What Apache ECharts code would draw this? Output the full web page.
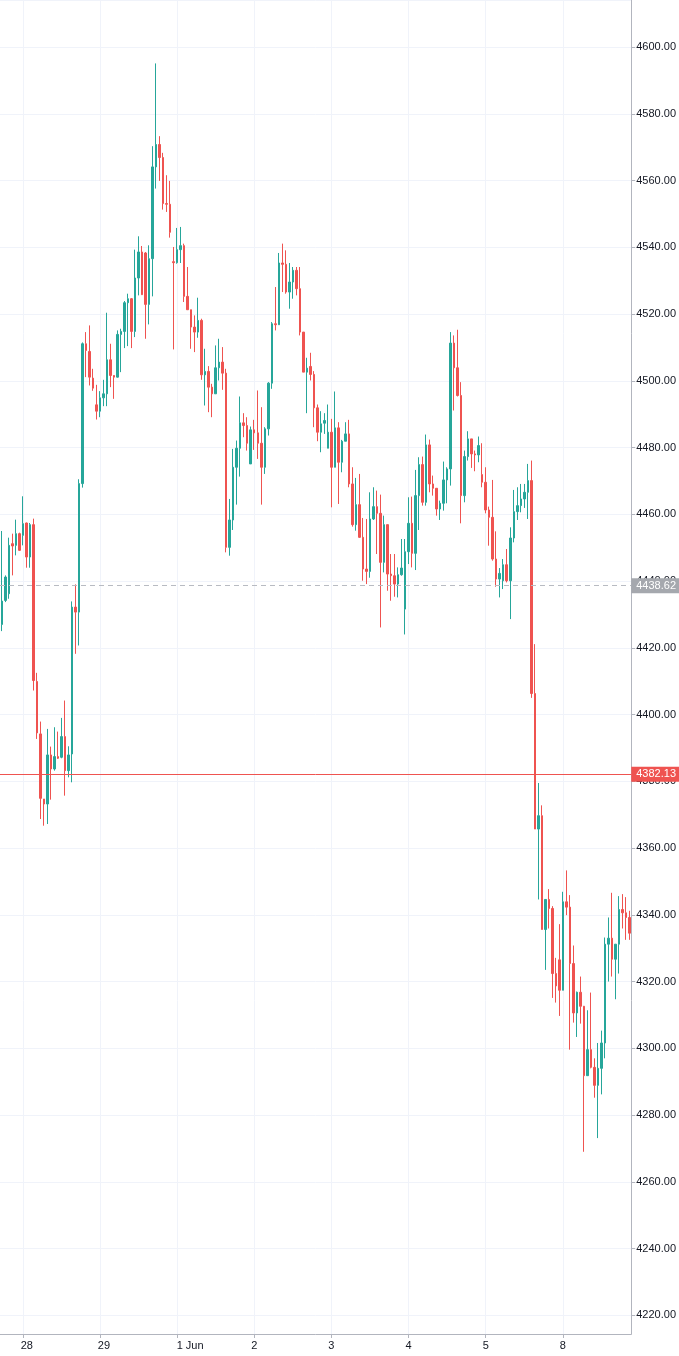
<!DOCTYPE html>
<html>
<head>
<meta charset="utf-8">
<script src="https://cdn.jsdelivr.net/npm/echarts@6/dist/echarts.min.js"></script>
<style>
html,body{margin:0;padding:0;background:#ffffff;}
#chart{width:679px;height:1356px;}
</style>
</head>
<body>
<div id="chart"></div>
<script>
// ---- data ----
const dayLabels = ['28', '29', '1 Jun', '2', '3', '4', '5', '8'];
const dayStarts = [6, 28, 50, 72, 94, 116, 138, 160];

const opens = [
4427,4434.2,4436.2,4451.2,4450.7,4454.2,4453.7,4457.4,4447.2,4456.9,
4409.9,4394.2,4374.7,4373.2,4387.9,4383.7,4387.4,4387.2,4393.4,4383.2,
4388.2,4432.2,4430.7,4469.2,4511.1,4508.8,4500.8,4492.8,4490.9,4494.9,
4496.1,4506.3,4501.6,4501.1,4513.9,4514.8,4523.4,4524.6,4514.8,4530.8,
4538.6,4538.3,4522.9,4536.6,4564.1,4570.8,4566.9,4553.1,4552.9,4535.7,
4535.4,4539.3,4540.5,4525.3,4521.3,4516.1,4514.6,4518.1,4501.8,4502.8,
4498.1,4496.1,4503.9,4505.6,4502.3,4450.1,4458.3,4474.1,4479.8,4487.4,
4486.6,4475.1,4485.3,4484.4,4481.3,4474.1,4485.6,4499.3,4517.1,4516.8,
4535.3,4534.9,4526.6,4529.6,4533.1,4527.6,4514.6,4502.6,4504.3,4501.9,
4491.9,4484.6,4487.3,4479.8,4484.6,4474.1,4485.9,4475.6,4481.9,4484.1,
4469.1,4456.9,4462.9,4453.1,4443.6,4442.9,4458.6,4462.3,4460.3,4445.6,
4456.9,4442.1,4441.6,4439.1,4441.9,4431.6,4448.8,4457.3,4448.3,4465.6,
4474.9,4463.6,4480.8,4469.1,4467.8,4461.6,4463.3,4470.3,4473.6,4511.3,
4503.9,4495.6,4465.6,4477.3,4482.6,4478.1,4477.8,4471.9,4469.6,4461.3,
4459.1,4446.6,4440.6,4440.1,4444.9,4440.1,4452.9,4460.8,4462.6,4464.6,
4466.6,4470.1,4406.3,4365.7,4369.7,4335.6,4344.6,4341.9,4322.4,4326.5,
4317.4,4343.9,4342.3,4325.4,4310.6,4316.8,4312.6,4291.8,4299.6,4294.3,
4288.9,4294.0,4301.6,4331.2,4333.0,4326.7,4331.2,4341.6,4340.6,4339.2
];
const closes = [
4434,4441.2,4450.7,4450.5,4454.2,4449.2,4457.2,4447.2,4456.9,4410.2,
4394.5,4374.9,4373.2,4387.9,4383.7,4387.4,4386.9,4393.4,4383.2,4387.9,
4432.2,4430.7,4469.2,4511.1,4509.1,4501.1,4497.8,4490.9,4494.9,4496.1,
4506.3,4501.6,4501.1,4513.9,4514.8,4523.4,4524.6,4514.8,4530.8,4538.6,
4525.8,4522.9,4536.6,4564.1,4570.8,4566.9,4553.1,4552.9,4544.5,4535.4,
4539.3,4540.5,4525.3,4521.3,4516.1,4514.6,4518.1,4501.8,4502.8,4498.1,
4496.1,4503.9,4505.6,4502.3,4450.1,4458.3,4474.1,4479.8,4487.4,4486.6,
4481.3,4485.3,4484.4,4481.3,4474.1,4485.6,4499.3,4517.1,4516.8,4535.3,
4534.9,4526.6,4529.6,4533.1,4527.6,4514.6,4502.6,4503.8,4501.9,4491.9,
4484.6,4487.1,4488.1,4484.6,4474.1,4485.9,4475.6,4481.9,4484.1,4469.1,
4456.9,4462.9,4453.1,4443.6,4442.9,4458.6,4462.3,4460.3,4445.6,4456.9,
4442.1,4441.6,4439.1,4441.9,4443.9,4448.8,4457.3,4448.3,4465.6,4474.9,
4463.6,4480.8,4469.1,4467.8,4461.6,4463.3,4470.3,4473.6,4511.3,4503.9,
4495.6,4465.6,4477.3,4482.6,4478.1,4477.8,4480.6,4469.6,4461.3,4459.1,
4446.6,4440.6,4442.3,4444.9,4440.1,4452.9,4460.8,4462.6,4464.6,4466.6,
4470.1,4406.3,4365.7,4369.7,4335.6,4344.6,4341.9,4322.4,4318.7,4317.4,
4343.9,4342.3,4325.4,4310.6,4316.8,4312.6,4291.8,4299.6,4294.3,4288.9,
4294.0,4301.6,4331.2,4333.0,4326.7,4331.2,4341.6,4340.6,4339.2,4334.5
];
const lows = [
4425,4433.7,4434.7,4441.7,4447.7,4449,4450.7,4444,4444,4407.2,
4392.7,4368.7,4366.7,4367.2,4374.5,4383.2,4386.7,4386.9,4375.7,4381.2,
4379.7,4418.2,4420.7,4468,4501.1,4498.6,4497,4488.4,4489.1,4492.4,
4492.4,4498.1,4494.6,4501,4502.6,4509.8,4510.4,4509.8,4513.1,4525.6,
4525.8,4512.6,4516.9,4525.3,4557.6,4559.9,4551.3,4550.6,4542.9,4509.4,
4535.1,4535.3,4523.6,4521.3,4509.6,4508.6,4512.9,4500.3,4492.6,4490.6,
4489.1,4496.1,4500.1,4497.3,4448.6,4447.6,4455.3,4462.9,4471.3,4483.1,
4479.1,4475.1,4479.3,4476.6,4462.9,4472.1,4483.6,4497.6,4515.1,4516.8,
4526.6,4526.1,4521.6,4524.6,4525.6,4513.6,4502.6,4490.3,4500.1,4486.1,
4481.9,4478.6,4484.1,4479.8,4462.1,4474.1,4463.1,4472.6,4481.9,4468.1,
4456.3,4455.1,4452.9,4440.1,4439.1,4441,4458.3,4448.1,4426.1,4442.6,
4437.1,4434.1,4435.3,4435.1,4441.6,4424,4445.1,4444.1,4443.3,4455.3,
4462.6,4462.6,4466.6,4465.6,4459.6,4458.3,4461.1,4463.3,4468.6,4491.1,
4495.3,4457.3,4463.6,4476.1,4473.9,4472.9,4475.6,4468.1,4460.3,4450.6,
4446.1,4438.3,4435.1,4437.6,4439.6,4428.6,4451.6,4458.3,4460.6,4461.9,
4458.6,4405,4365.7,4344.6,4335.6,4323.5,4335.9,4315.1,4313.7,4309.7,
4317.4,4339.9,4299.6,4307.7,4303.4,4307.4,4269,4291.8,4294,4285.2,
4273.1,4286.2,4297,4320,4321.5,4314.7,4322.4,4335.9,4332.5,4332.5
];
const highs = [
4455,4441.7,4453,4454.2,4458.4,4454.5,4465.4,4457.5,4457.4,4458.7,
4412.5,4397.9,4374.7,4395.7,4390.4,4396.2,4394.9,4399,4404.2,4390.5,
4433.9,4439,4470.5,4511.5,4514.6,4516.6,4503.6,4498.8,4496.9,4500.3,
4520.4,4511.1,4501.7,4515.1,4515.6,4523.9,4526.1,4524.8,4539.3,4543.3,
4540.4,4538.6,4540.6,4570.3,4595.1,4573.3,4568.3,4561.6,4559.9,4540.1,
4545.8,4546.1,4541.1,4534.1,4521.3,4519.6,4524.9,4518.6,4509.6,4504.4,
4499.1,4510.6,4512.6,4510.1,4503.6,4464.6,4479.6,4482.1,4495.3,4490.3,
4489.1,4486.3,4488.3,4497.1,4492.1,4486.1,4499.6,4517.6,4528.1,4538.3,
4541.1,4539.1,4535.3,4534.1,4534.1,4534.1,4514.6,4506.9,4508.4,4502.9,
4492.9,4490.9,4490.3,4492.9,4488.6,4496.8,4487.6,4482.3,4487.6,4488.3,
4474.1,4470.9,4472.1,4458.9,4458.6,4466.6,4468.1,4467.1,4465.9,4459.6,
4456.9,4448.1,4448.1,4444.1,4452.6,4452.6,4465.1,4465.3,4473.3,4477.1,
4477.3,4483.9,4482.4,4471.6,4467.8,4464.1,4475.8,4474.1,4514.6,4513.6,
4515.3,4499.6,4479.1,4484.9,4482.6,4479.1,4483.3,4481.3,4474.1,4462.3,
4470.3,4454.9,4443.9,4446.6,4449.6,4456.1,4467.3,4468.1,4469.1,4469.1,
4475.1,4476.1,4421.1,4379.5,4372.8,4344.6,4347.7,4342.6,4327.1,4337.2,
4346.9,4353.3,4345.9,4330.8,4317,4321.5,4312.7,4311.4,4316.7,4297,
4301.6,4305.3,4333.2,4339.2,4346.6,4331.2,4345.6,4346.2,4345.3,4341.2
];

const redLineValue = 4382.13;
const grayLineValue = 4438.62;
const yMin = 4214.4;
const yMax = 4614.1;

// ---- build ----
const categories = opens.map((_, i) => 'c' + i);
const candles = opens.map((o, i) => [o, closes[i], lows[i], highs[i]]);
const isDayStart = (i) => dayStarts.indexOf(i) >= 0;

const upColor = '#26a69a';
const downColor = '#ef5350';
const axisColor = '#b2b5be';
const gridColor = '#f0f3fa';
const fontFamily = '"Liberation Sans", Arial, sans-serif';
const textColor = '#131722';

const richBase = { fontSize: 11, color: textColor, fontFamily: fontFamily };

const chart = echarts.init(document.getElementById('chart'), null, { renderer: 'canvas' });
chart.setOption({
  animation: false,
  backgroundColor: '#ffffff',
  textStyle: { fontFamily: fontFamily },
  grid: { left: 0, right: 47, top: 0, bottom: 22 },
  xAxis: {
    type: 'category',
    data: categories,
    boundaryGap: true,
    axisLine: { show: true, lineStyle: { color: axisColor, width: 1 } },
    axisTick: { show: true, alignWithLabel: true, interval: isDayStart, length: 4, lineStyle: { color: axisColor } },
    axisLabel: {
      interval: isDayStart,
      margin: 6,
      fontSize: 11,
      color: textColor,
      formatter: function (value, index) {
        const k = dayStarts.indexOf(index);
        if (k < 0) return '';
        const lbl = dayLabels[k];
        if (lbl.indexOf(' ') >= 0) return '{c|' + lbl + '}';
        if (lbl.length > 1) return '{b|' + lbl + '}';
        return '{a|' + lbl + '}';
      },
      rich: {
        a: Object.assign({}, richBase),
        b: Object.assign({ padding: [0, 0, 0, 8] }, richBase),
        c: Object.assign({ padding: [0, 0, 0, 26] }, richBase)
      }
    },
    splitLine: { show: true, alignWithLabel: true, interval: isDayStart, lineStyle: { color: gridColor, width: 1 } }
  },
  yAxis: {
    type: 'value',
    position: 'right',
    min: yMin,
    max: yMax,
    splitNumber: 20,
    axisLine: { show: true, lineStyle: { color: axisColor, width: 1 } },
    axisTick: { show: true, length: 4, lineStyle: { color: axisColor } },
    axisLabel: {
      margin: 5,
      fontSize: 11,
      color: textColor,
      showMinLabel: false,
      showMaxLabel: false,
      formatter: function (v) {
        return Math.abs(v / 20 - Math.round(v / 20)) < 1e-6 ? v.toFixed(2) : '';
      }
    },
    splitLine: { show: true, lineStyle: { color: gridColor, width: 1 } }
  },
  series: [{
    type: 'candlestick',
    data: candles,
    barWidth: 2,
    itemStyle: {
      color: upColor,
      color0: downColor,
      borderColor: upColor,
      borderColor0: downColor,
      borderWidth: 1
    },
    markLine: {
      silent: true,
      symbol: 'none',
      animation: false,
      data: [
        {
          yAxis: redLineValue,
          lineStyle: { color: downColor, type: 'solid', width: 1 },
          label: {
            show: true, position: 'end', distance: 0,
            formatter: redLineValue.toFixed(2),
            color: '#ffffff', backgroundColor: downColor,
            padding: [2, 4, 2, 5], fontSize: 11, fontFamily: fontFamily
          }
        },
        {
          yAxis: grayLineValue,
          lineStyle: { color: '#b8bbc2', type: [5, 4], width: 1 },
          label: {
            show: true, position: 'end', distance: 0,
            formatter: grayLineValue.toFixed(2),
            color: '#ffffff', backgroundColor: '#a5a8ae',
            padding: [2, 4, 2, 5], fontSize: 11, fontFamily: fontFamily
          }
        }
      ]
    }
  }]
});
</script>
</body>
</html>
